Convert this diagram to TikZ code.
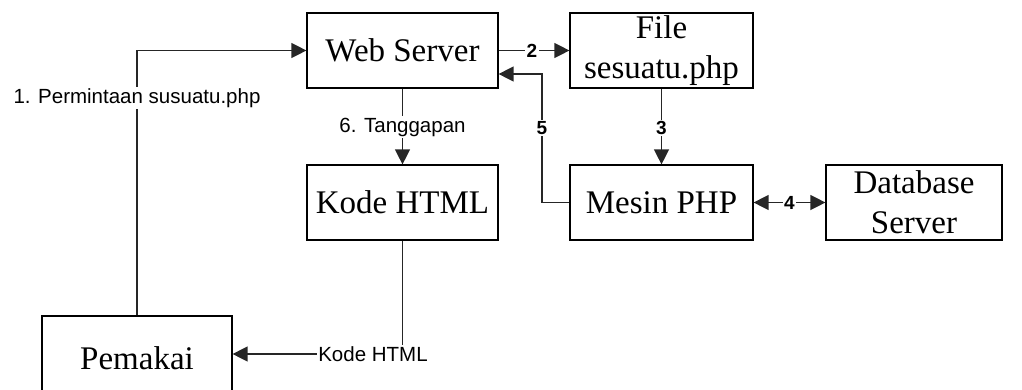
\documentclass[tikz,border=0pt]{standalone}
\usepackage{fontspec}
\setmainfont{Liberation Serif}
\newfontfamily\labelfont{Liberation Sans}
\usetikzlibrary{arrows.meta,calc}
\begin{document}
\begin{tikzpicture}[x=1pt,y=-1pt,
  box/.style={draw=black,line width=1.2pt,minimum width=#1,minimum height=75pt,
    inner sep=0pt,align=center,font=\fontsize{33}{40}\selectfont},
  box/.default=183pt,
  tip/.tip={Triangle[length=15pt,width=15pt]},
  link/.style={draw=black!85,line width=1.3pt,-tip},
  tag/.style={fill=white,inner sep=1.5pt,font=\labelfont\fontsize{20.5}{24}\selectfont},
  num/.style={tag,font=\labelfont\bfseries\fontsize{19}{22}\selectfont}]
  \useasboundingbox (0,0) rectangle (1022,389);
  \clip (0,0) rectangle (1022,389);

  % boxes
  \node[box=191pt] (web)  at (402.5,50.5) {Web Server};
  \node[box]       (file) at (661.5,50.5) {File\\sesuatu.php};
  \node[box=191pt] (kode) at (402.5,202.5) {Kode HTML};
  \node[box]       (php)  at (661.5,202.5) {Mesin PHP};
  \node[box=176pt] (db)   at (914,202.5) {Database\\Server};
  \node[box=190pt,minimum height=84pt] (pem) at (137,358) {Pemakai};

  % bend points
  \coordinate (up5) at (542,202.5);
  \coordinate (top5) at (542,74);
  \coordinate (bend7) at (402.5,354);

  % connectors
  \draw[link] (pem.north) |- (web.west);
  \draw[link] (web.east) -- (file.west);
  \draw[link] (file.south) -- (php.north);
  \draw[link,tip-tip] (php.east) -- (db.west);
  \draw[link] (php.west) -- (up5) -- (top5) -- (web.east |- top5);
  \draw[link] (web.south) -- (kode.south |- kode.north);
  \draw[link] (kode.south) -- (bend7) -- (pem.east |- bend7);

  % labels
  \node[tag] (l1) at (137,98) {1. Permintaan susuatu.php};
  \node[num] (l2) at (532,50.5) {2};
  \node[num] (l3) at (661.5,128) {3};
  \node[num] (l4) at (789.5,202.5) {4};
  \node[num] (l5) at (542,128) {5};
  \node[tag] (l6) at (402.5,127) {6. Tanggapan};
  \node[tag] (l7) at (373,354) {Kode HTML};
\end{tikzpicture}
\end{document}
